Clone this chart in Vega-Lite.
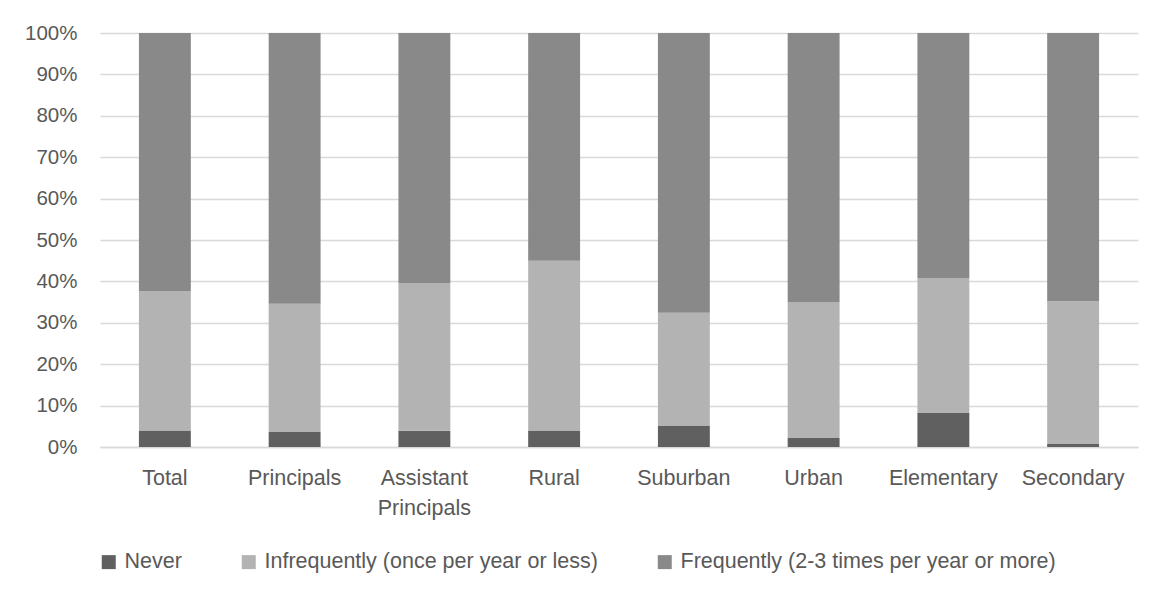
{
  "$schema": "https://vega.github.io/schema/vega-lite/v6.json",
  "autosize": "none",
  "width": 1038,
  "height": 414,
  "padding": {"left": 100, "top": 33, "right": 15, "bottom": 151},
  "background": "white",
  "config": {
    "view": {"stroke": null},
    "font": "Liberation Sans"
  },
  "data": {
    "values": [
      {"group": "Total", "response": "Never", "ord": 1, "pct": 4.0},
      {"group": "Total", "response": "Infrequently (once per year or less)", "ord": 2, "pct": 33.7},
      {"group": "Total", "response": "Frequently (2-3 times per year or more)", "ord": 3, "pct": 62.3},
      {"group": "Principals", "response": "Never", "ord": 1, "pct": 3.6},
      {"group": "Principals", "response": "Infrequently (once per year or less)", "ord": 2, "pct": 31.0},
      {"group": "Principals", "response": "Frequently (2-3 times per year or more)", "ord": 3, "pct": 65.4},
      {"group": "Assistant Principals", "response": "Never", "ord": 1, "pct": 3.9},
      {"group": "Assistant Principals", "response": "Infrequently (once per year or less)", "ord": 2, "pct": 35.7},
      {"group": "Assistant Principals", "response": "Frequently (2-3 times per year or more)", "ord": 3, "pct": 60.4},
      {"group": "Rural", "response": "Never", "ord": 1, "pct": 4.0},
      {"group": "Rural", "response": "Infrequently (once per year or less)", "ord": 2, "pct": 41.0},
      {"group": "Rural", "response": "Frequently (2-3 times per year or more)", "ord": 3, "pct": 55.0},
      {"group": "Suburban", "response": "Never", "ord": 1, "pct": 5.2},
      {"group": "Suburban", "response": "Infrequently (once per year or less)", "ord": 2, "pct": 27.2},
      {"group": "Suburban", "response": "Frequently (2-3 times per year or more)", "ord": 3, "pct": 67.6},
      {"group": "Urban", "response": "Never", "ord": 1, "pct": 2.2},
      {"group": "Urban", "response": "Infrequently (once per year or less)", "ord": 2, "pct": 32.7},
      {"group": "Urban", "response": "Frequently (2-3 times per year or more)", "ord": 3, "pct": 65.1},
      {"group": "Elementary", "response": "Never", "ord": 1, "pct": 8.2},
      {"group": "Elementary", "response": "Infrequently (once per year or less)", "ord": 2, "pct": 32.6},
      {"group": "Elementary", "response": "Frequently (2-3 times per year or more)", "ord": 3, "pct": 59.2},
      {"group": "Secondary", "response": "Never", "ord": 1, "pct": 0.7},
      {"group": "Secondary", "response": "Infrequently (once per year or less)", "ord": 2, "pct": 34.5},
      {"group": "Secondary", "response": "Frequently (2-3 times per year or more)", "ord": 3, "pct": 64.8}
    ]
  },
  "mark": {"type": "bar"},
  "encoding": {
    "x": {
      "field": "group",
      "type": "nominal",
      "sort": null,
      "scale": {"paddingInner": 0.6, "paddingOuter": 0.3},
      "axis": {
        "title": null,
        "labelAngle": 0,
        "labelFontSize": 21.5,
        "labelColor": "#595959",
        "labelPadding": 20,
        "labelLimit": 0,
        "ticks": false,
        "domain": true,
        "domainColor": "#d9d9d9",
        "domainWidth": 1.5,
        "labelExpr": "datum.label == 'Assistant Principals' ? ['Assistant', 'Principals'] : datum.label",
        "labelLineHeight": 30
      }
    },
    "y": {
      "field": "pct",
      "type": "quantitative",
      "stack": "zero",
      "scale": {"domain": [0, 100]},
      "axis": {
        "title": null,
        "values": [0, 10, 20, 30, 40, 50, 60, 70, 80, 90, 100],
        "labelExpr": "datum.value + '%'",
        "labelFontSize": 20.5,
        "labelColor": "#595959",
        "labelPadding": 23,
        "ticks": false,
        "domain": false,
        "gridColor": "#d9d9d9",
        "gridWidth": 1.5
      }
    },
    "color": {
      "field": "response",
      "type": "nominal",
      "sort": ["Never", "Infrequently (once per year or less)", "Frequently (2-3 times per year or more)"],
      "scale": {
        "domain": ["Never", "Infrequently (once per year or less)", "Frequently (2-3 times per year or more)"],
        "range": ["#606060", "#b3b3b3", "#898989"]
      },
      "legend": {
        "title": null,
        "orient": "none",
        "direction": "horizontal",
        "legendX": -2,
        "legendY": 518,
        "symbolType": "square",
        "symbolSize": 196,
        "symbolStrokeWidth": 0,
        "labelFontSize": 21.5,
        "labelLimit": 0,
        "labelColor": "#595959",
        "labelOffset": 5,
        "columnPadding": 56
      }
    },
    "order": {"field": "ord", "type": "quantitative"}
  }
}
